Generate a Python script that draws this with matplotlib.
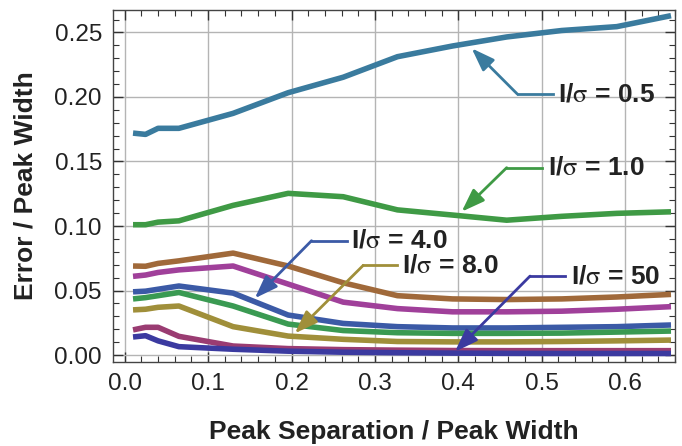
import matplotlib
matplotlib.use("Agg")
import matplotlib.pyplot as plt
from matplotlib.ticker import MultipleLocator

plt.rcParams['font.family'] = ['Liberation Sans', 'DejaVu Sans']
plt.rcParams['mathtext.fontset'] = 'stix'

# peak separation / peak width
sep = [0.01, 0.025, 0.04, 0.065, 0.13, 0.196, 0.262, 0.327, 0.393, 0.458, 0.524, 0.59, 0.655]

# error / peak width for each I/sigma
err_05 = [0.172, 0.171, 0.1757, 0.1757, 0.1873, 0.2033, 0.2153, 0.2312, 0.2395, 0.2465, 0.2515, 0.2545, 0.263]
err_10 = [0.101, 0.101, 0.103, 0.104, 0.116, 0.1253, 0.1227, 0.1125, 0.1085, 0.1045, 0.1075, 0.1098, 0.111]
err_brown = [0.069, 0.0688, 0.071, 0.073, 0.079, 0.069, 0.056, 0.046, 0.0435, 0.043, 0.0435, 0.045, 0.047]
err_magenta = [0.061, 0.062, 0.064, 0.066, 0.069, 0.055, 0.041, 0.036, 0.0335, 0.0335, 0.034, 0.0355, 0.0375]
err_40 = [0.049, 0.0495, 0.051, 0.0535, 0.048, 0.031, 0.0245, 0.022, 0.021, 0.021, 0.0215, 0.022, 0.0233]
err_green2 = [0.0435, 0.0445, 0.046, 0.0485, 0.038, 0.024, 0.019, 0.0173, 0.0168, 0.0168, 0.017, 0.0178, 0.0186]
err_80 = [0.035, 0.0355, 0.037, 0.038, 0.022, 0.0147, 0.0122, 0.0105, 0.0102, 0.0102, 0.0105, 0.011, 0.0116]
err_maroon = [0.0195, 0.0215, 0.0215, 0.0145, 0.007, 0.005, 0.0042, 0.0038, 0.0035, 0.0034, 0.0034, 0.0034, 0.0034]
err_50 = [0.014, 0.015, 0.011, 0.0065, 0.0045, 0.003, 0.0022, 0.0018, 0.0015, 0.0013, 0.0012, 0.0012, 0.0012]

curves = [
    (err_05, '#3a7b9e'),
    (err_10, '#3f9a45'),
    (err_brown, '#a0693a'),
    (err_magenta, '#a0409a'),
    (err_40, '#3b5aa6'),
    (err_green2, '#3a9a52'),
    (err_80, '#a08f3a'),
    (err_maroon, '#9a3c72'),
    (err_50, '#3b3aa0'),
]

# label text, arrow tip, elbow, end of the horizontal leg, text anchor, colour
callouts = [
    (r'I/$\mathrm{\sigma}$ = 0.5', (0.416, 0.2377), (0.471, 0.2021), 0.513, 0.520, '#3a7b9e'),
    (r'I/$\mathrm{\sigma}$ = 1.0', (0.404, 0.1111), (0.458, 0.1452), 0.500, 0.508, '#3f9a45'),
    (r'I/$\mathrm{\sigma}$ = 4.0', (0.156, 0.0440), (0.224, 0.0886), 0.266, 0.271, '#3b5aa6'),
    (r'I/$\mathrm{\sigma}$ = 8.0', (0.204, 0.0168), (0.286, 0.0695), 0.326, 0.333, '#a08f3a'),
    (r'I/$\mathrm{\sigma}$ = 50', (0.396, 0.0026), (0.486, 0.0612), 0.528, 0.535, '#3b3aa0'),
]

fig = plt.figure(figsize=(6.82, 4.46), dpi=100)
ax = fig.add_axes([0.1657, 0.1883, 0.8243, 0.7893])

for vals, col in curves:
    ax.plot(sep, vals, color=col, lw=4.0, solid_joinstyle='round', solid_capstyle='butt', zorder=3)

for label, tip, elbow, leg_end, tx, col in callouts:
    ax.plot([elbow[0], leg_end], [elbow[1], elbow[1]], color=col, lw=2.0, zorder=4)
    ax.annotate('', xy=tip, xytext=elbow,
                arrowprops=dict(arrowstyle='-|>,head_length=0.7,head_width=0.25', color=col,
                                lw=2.0, shrinkA=0, shrinkB=0, mutation_scale=20), zorder=4)
    ax.text(tx, elbow[1], label, fontsize=19, fontweight='bold', color='#222222',
            va='center', ha='left', zorder=5)

ax.set_xlim(-0.014, 0.66)
ax.set_ylim(-0.0054, 0.2674)
ax.xaxis.set_major_locator(MultipleLocator(0.1))
ax.xaxis.set_minor_locator(MultipleLocator(0.02))
ax.yaxis.set_major_locator(MultipleLocator(0.05))
ax.yaxis.set_minor_locator(MultipleLocator(0.01))
ax.xaxis.set_major_formatter(plt.FuncFormatter(lambda v, p: f'{v:.1f}'))
ax.yaxis.set_major_formatter(plt.FuncFormatter(lambda v, p: f'{v:.2f}'))

ax.grid(True, which='major', color='#b4b4b4', lw=1.0, zorder=0)
ax.tick_params(which='both', direction='in', top=True, right=True, colors='#333333',
               labelcolor='#222222', labelsize=17.5)
ax.tick_params(which='major', length=7, width=1.0, pad=8)
ax.tick_params(which='minor', length=4, width=0.8)
for s in ax.spines.values():
    s.set_color('#444444')
    s.set_linewidth(1.0)

ax.set_xlabel('Peak Separation / Peak Width', fontsize=19, fontweight='bold', color='#222222', labelpad=18)
ax.set_ylabel('Error / Peak Width', fontsize=19, fontweight='bold', color='#222222', labelpad=12)

fig.savefig('out.png', dpi=100)
